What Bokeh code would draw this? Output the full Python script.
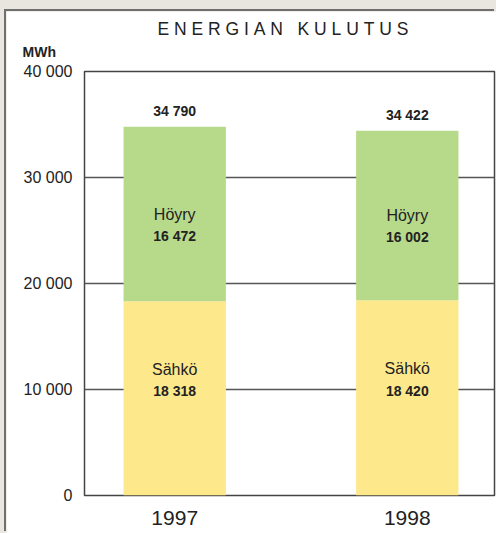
from bokeh.plotting import figure
from bokeh.models import Range1d, FixedTicker, Title, LabelSet, ColumnDataSource
from bokeh.layouts import column
from bokeh.core.properties import value
from bokeh.embed import file_html
from bokeh.resources import INLINE

# ---- data ----
years = ["1997", "1998"]
sahko = [18318, 18420]
hoyry = [16472, 16002]
totals = [34790, 34422]
series_names = ["Sähkö", "Höyry"]
y_ticks = [0, 10000, 20000, 30000, 40000]
y_tick_labels = ["0", "10 000", "20 000", "30 000", "40 000"]
title_text = "ENERGIAN KULUTUS"
unit_text = "MWh"

YELLOW = "#fde88b"
GREEN = "#b7d98a"
TXT = "#222222"
FONT = "Liberation Sans"
BEIGE = "#e9e6df"
NB = "\u00a0"


def fmt(v):
    return f"{v:,}".replace(",", " ")


xs = list(range(len(years)))
tops = [s + h for s, h in zip(sahko, hoyry)]

p = figure(width=490, height=522, output_backend="svg", toolbar_location=None,
           x_range=Range1d(-0.388, 1.375), y_range=Range1d(0, 40000),
           min_border_left=78, min_border_right=2, min_border_top=60,
           min_border_bottom=38, title=None)
p.margin = (11, 0, 0, 6)
p.styles = {"box-shadow": "-2px -2px 0 0 #6f6f6f"}
p.background_fill_color = "white"
p.border_fill_color = "white"
p.outline_line_color = "#444444"
p.outline_line_width = 1.5

# bars
p.vbar(x=xs, bottom=0, top=sahko, width=0.44, fill_color=YELLOW, line_color=None)
p.vbar(x=xs, bottom=sahko, top=tops, width=0.44, fill_color=GREEN, line_color=None)

# grid
p.xgrid.visible = False
p.ygrid.ticker = FixedTicker(ticks=y_ticks)
p.ygrid.grid_line_color = "#555555"
p.ygrid.grid_line_width = 1.5

# y axis
ya = p.yaxis[0]
ya.ticker = FixedTicker(ticks=y_ticks)
ya.major_label_overrides = {t: l for t, l in zip(y_ticks, y_tick_labels)}
ya.axis_line_color = None
ya.major_tick_line_color = None
ya.minor_tick_line_color = None
ya.major_tick_out = 0
ya.major_tick_in = 0
ya.major_label_standoff = 12
ya.major_label_text_font = FONT
ya.major_label_text_font_size = "16px"
ya.major_label_text_color = TXT

# x axis
xa = p.xaxis[0]
xa.ticker = FixedTicker(ticks=xs)
xa.major_label_overrides = {i: y for i, y in zip(xs, years)}
xa.axis_line_color = None
xa.major_tick_line_color = None
xa.minor_tick_line_color = None
xa.major_tick_out = 0
xa.major_tick_in = 0
xa.major_label_standoff = 15
xa.major_label_text_font = FONT
xa.major_label_text_font_size = "21px"
xa.major_label_text_color = TXT

# total labels
tot_src = ColumnDataSource(dict(x=xs, y=tops, t=[fmt(v) for v in totals]))
p.add_layout(LabelSet(x="x", y="y", text="t", source=tot_src, y_offset=16,
                      text_align="center", text_baseline="middle",
                      text_font=value(FONT), text_font_size=value("14px"),
                      text_font_style="bold", text_color=TXT))

# segment labels
name_y, name_t, val_t, lx = [], [], [], []
for i in xs:
    lx.append(i)
    name_y.append(sahko[i] * 0.65)
    name_t.append(series_names[0])
    val_t.append(fmt(sahko[i]))
    lx.append(i)
    name_y.append(sahko[i] + hoyry[i] * 0.5)
    name_t.append(series_names[1])
    val_t.append(fmt(hoyry[i]))

name_src = ColumnDataSource(dict(x=lx, y=name_y, t=name_t, v=val_t))
p.add_layout(LabelSet(x="x", y="y", text="t", source=name_src,
                      text_align="center", text_baseline="middle",
                      text_font=value(FONT), text_font_size=value("16px"),
                      text_color=TXT))
p.add_layout(LabelSet(x="x", y="y", text="v", source=name_src, y_offset=-22,
                      text_align="center", text_baseline="middle",
                      text_font=value(FONT), text_font_size=value("14px"),
                      text_font_style="bold", text_color=TXT))

# unit label (closest to the frame) and main title (above it)
spaced = (NB * 3).join(NB.join(w) for w in title_text.split(" "))
p.add_layout(Title(text=unit_text, align="left", offset=-62, standoff=24,
                   text_font=FONT, text_font_size="14px", text_font_style="bold",
                   text_color=TXT), "above")
p.add_layout(Title(text=spaced, align="left", offset=73, standoff=-18,
                   text_font=FONT, text_font_size="17.5px", text_font_style="normal",
                   text_color=TXT), "above")

page = column(p, styles={"background-color": BEIGE})
open("out.html", "w").write(file_html(page, INLINE))
